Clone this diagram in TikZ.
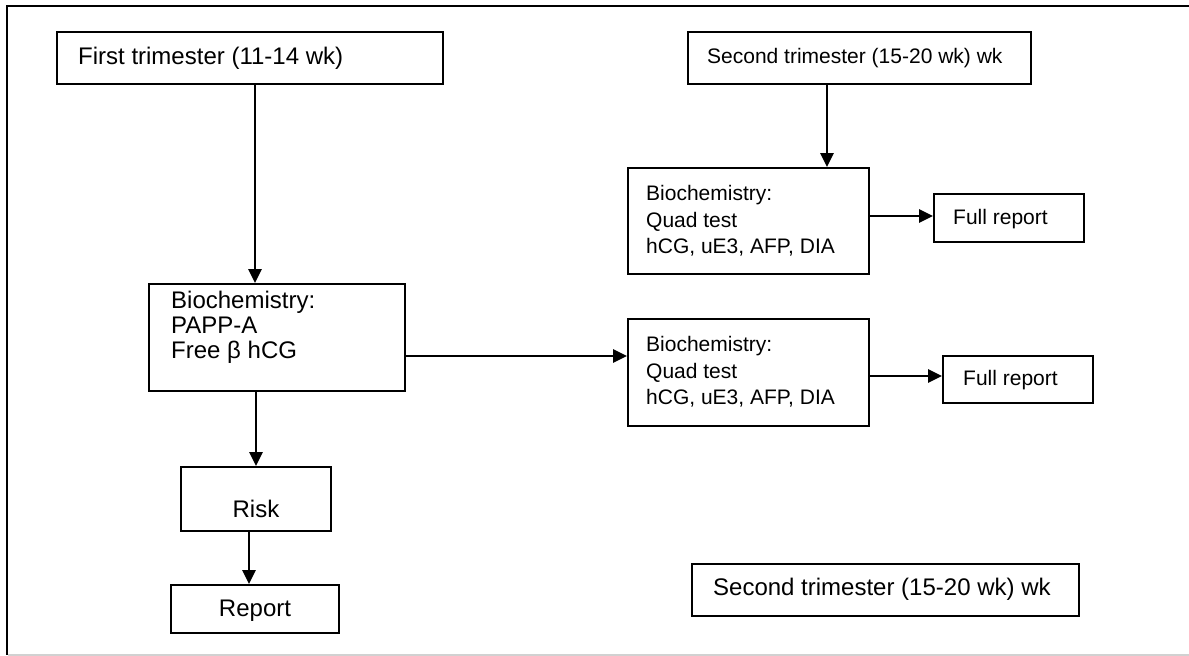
\documentclass[tikz,border=0pt]{standalone}
\usepackage{fontspec}
\setmainfont{Liberation Sans}
\usetikzlibrary{arrows.meta}
\begin{document}
\begin{tikzpicture}[x=1pt,y=-1pt,
  box/.style={draw=black, line width=1.8pt, rectangle, inner sep=0pt, anchor=center},
  txt/.style={inner sep=0pt, align=left, font=\fontsize{21pt}{26.5pt}\selectfont},
  bigtxt/.style={inner sep=0pt, align=left, font=\fontsize{24pt}{25pt}\selectfont},
  arr/.style={line width=2.6pt, -{Triangle[length=14pt,width=13pt]}},
  frame/.style={line width=1.8pt}]
\useasboundingbox (0,0) rectangle (1189,656);
% outer frame
\draw[frame] (1189,6) -- (7,6) -- (7,655);
\draw[line width=1.5pt, black!18] (8,655) -- (1189,655);
% boxes
\node[box, minimum width=386pt, minimum height=52pt] (ft) at (250,58) {};
\node[bigtxt, anchor=west] (ftt) at (78,58) {First trimester (11-14 wk)};
\node[box, minimum width=343pt, minimum height=52pt] (st) at (859.5,58) {};
\node[txt, anchor=west] (stt) at (707,58) {Second trimester (15-20 wk) wk};
\node[box, minimum width=241pt, minimum height=106pt] (b2) at (748.5,221) {};
\node[txt, anchor=west] (b2t) at (646,221) {Biochemistry:\\Quad test\\hCG, uE3, AFP, DIA};
\node[box, minimum width=150pt, minimum height=48pt] (fr1) at (1009,218) {};
\node[txt, anchor=west] (fr1t) at (953,219) {Full report};
\node[box, minimum width=256pt, minimum height=107pt] (b1) at (277,337.5) {};
\node[bigtxt, anchor=west] (b1t) at (171,327) {Biochemistry:\\PAPP-A\\Free β hCG};
\node[box, minimum width=241pt, minimum height=107pt] (b3) at (748.5,372.5) {};
\node[txt, anchor=west] (b3t) at (646,372) {Biochemistry:\\Quad test\\hCG, uE3, AFP, DIA};
\node[box, minimum width=150pt, minimum height=47pt] (fr2) at (1018,379.5) {};
\node[txt, anchor=west] (fr2t) at (963,380) {Full report};
\node[box, minimum width=150pt, minimum height=64pt] (risk) at (256,499) {};
\node[bigtxt] (riskt) at (256,509) {Risk};
\node[box, minimum width=168pt, minimum height=48pt] (rep) at (255,609) {};
\node[bigtxt] (rept) at (255,611) {Report};
\node[box, minimum width=387pt, minimum height=52pt] (st2) at (885.5,590) {};
\node[bigtxt, anchor=west] (st2t) at (713,589) {Second trimester (15-20 wk) wk};
% connectors
\draw[arr] ([xshift=5pt]ft.south) -- ([xshift=5pt]ft.south |- b1.north);
\draw[arr] (risk.north |- b1.south) -- (risk.north);
\draw[arr] ([xshift=-7pt]risk.south) -- ([xshift=-7pt]risk.south |- rep.north);
\draw[arr] ([yshift=-18.5pt]b1.east) -- ([yshift=-18.5pt]b1.east -| b3.west);
\draw[arr] ([xshift=-32.5pt]st.south) -- ([xshift=-32.5pt]st.south |- b2.north);
\draw[arr] ([yshift=5pt]b2.east) -- ([yshift=5pt]b2.east -| fr1.west);
\draw[arr] ([yshift=-3.5pt]b3.east) -- ([yshift=-3.5pt]b3.east -| fr2.west);
\end{tikzpicture}
\end{document}
